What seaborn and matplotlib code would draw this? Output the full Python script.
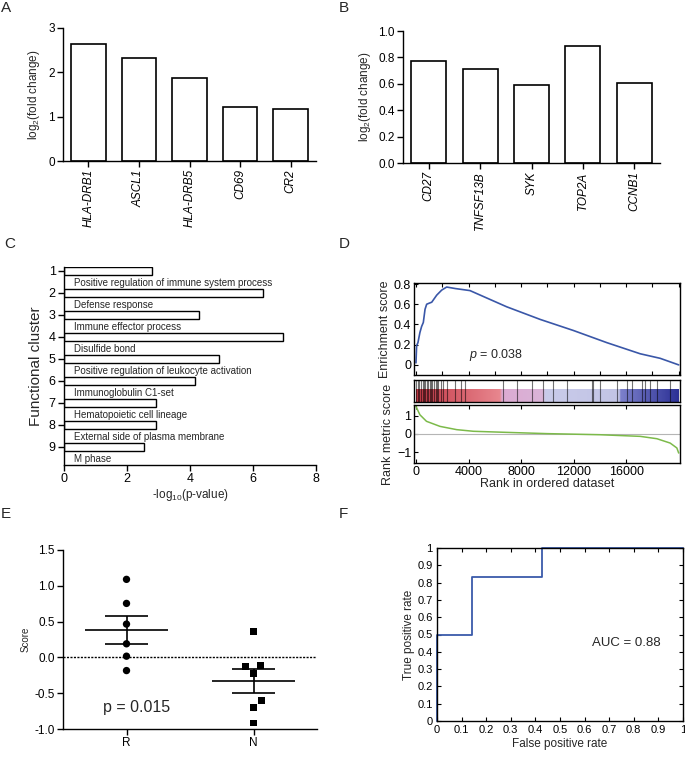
import numpy as np
import pandas as pd
import matplotlib
matplotlib.use('Agg')
import matplotlib.pyplot as plt
import seaborn as sns
from matplotlib.colors import LinearSegmentedColormap

# ---------------- data ----------------
# A
genes_a = ['HLA-DRB1', 'ASCL1', 'HLA-DRB5', 'CD69', 'CR2']
fc_a = [2.65, 2.32, 1.87, 1.22, 1.18]
# B
genes_b = ['CD27', 'TNFSF13B', 'SYK', 'TOP2A', 'CCNB1']
fc_b = [0.77, 0.71, 0.59, 0.885, 0.605]
# C
clusters = ['1', '2', '3', '4', '5', '6', '7', '8', '9']
cluster_terms = ['Positive regulation of immune system process', 'Defense response',
                 'Immune effector process', 'Disulfide bond',
                 'Positive regulation of leukocyte activation', 'Immunoglobulin C1-set',
                 'Hematopoietic cell lineage', 'External side of plasma membrane', 'M phase']
cluster_logp = [2.78, 6.33, 4.27, 6.96, 4.92, 4.15, 2.92, 2.91, 2.55]
# D
es_rank = [0, 50, 150, 300, 430, 560, 690, 815, 1000, 1200, 1580, 1960, 2210, 2340,
           3000, 4110, 6900, 9450, 11990, 14530, 17070, 18590, 20000]
es_score = [0.02, 0.19, 0.22, 0.32, 0.38, 0.42, 0.55, 0.60, 0.61, 0.62, 0.69, 0.74, 0.76,
            0.77, 0.755, 0.735, 0.575, 0.45, 0.34, 0.22, 0.11, 0.065, 0.0]
hit_ranks = [30, 150, 250, 400, 500, 600, 700, 850, 950, 1050, 1150, 1250, 1350, 1500,
             1600, 1700, 1900, 2050, 2390, 2970, 3400, 3730, 6650, 7670, 8810, 9700,
             10460, 11480, 13380, 13510, 14020, 15290, 16050, 16430, 17190, 17450,
             17830, 18340, 19350]
metric_rank = [0, 300, 800, 1830, 3100, 4370, 6900, 10000, 14000, 17070, 18340, 19350,
               19860, 20000]
metric_score = [1.52, 1.06, 0.70, 0.42, 0.24, 0.15, 0.09, 0.02, -0.04, -0.13, -0.26,
                -0.50, -0.77, -1.05]
band_rank = [0, 6400, 6500, 9700, 9800, 15500, 15600, 20000]
band_colors = ['#c63a48', '#e8878f', '#dcaad2', '#dab4d8', '#c9cbea', '#c2c4e5',
               '#7c80cb', '#2c3196']
# E
score_r = [1.09, 0.754, 0.465, 0.19, 0.017, -0.184]
score_n = [0.367, -0.118, -0.132, -0.23, -0.599, -0.706, -0.916]

# ---------------- style ----------------
sns.set_style('ticks')
plt.rcParams['font.family'] = ['Liberation Sans', 'DejaVu Sans']
plt.rcParams['mathtext.fontset'] = 'custom'
plt.rcParams['mathtext.rm'] = 'Liberation Sans'
plt.rcParams['mathtext.it'] = 'Liberation Sans:italic'
plt.rcParams['mathtext.default'] = 'regular'
plt.rcParams['axes.linewidth'] = 1.0
plt.rcParams['axes.edgecolor'] = 'black'
plt.rcParams['xtick.color'] = 'black'
plt.rcParams['ytick.color'] = 'black'

W, H = 685, 757
fig = plt.figure(figsize=(W / 100, H / 100), dpi=100)


def ax_px(left, top, right, bottom):
    return fig.add_axes([left / W, 1 - bottom / H, (right - left) / W, (bottom - top) / H])


def prism(ax, fs=8.5):
    sns.despine(ax=ax)
    ax.tick_params(direction='out', length=4, width=1, labelsize=fs, pad=2)


# ---------------- A ----------------
axA = ax_px(63, 28, 316, 161)
sns.barplot(x=genes_a, y=fc_a, ax=axA, color='white', edgecolor='black', linewidth=1.2,
            width=0.68, saturation=1)
axA.set_xlim(-0.5, 4.5)
axA.set_ylim(0, 3)
axA.set_yticks([0, 1, 2, 3])
axA.set_ylabel('log$_2$(fold change)', fontsize=8.5, labelpad=4)
prism(axA)
axA.tick_params(axis='x', rotation=90)
for t in axA.get_xticklabels():
    t.set_fontstyle('italic')

# ---------------- B ----------------
axB = ax_px(403, 31, 660, 163)
sns.barplot(x=genes_b, y=fc_b, ax=axB, color='white', edgecolor='black', linewidth=1.2,
            width=0.68, saturation=1)
axB.set_xlim(-0.5, 4.5)
axB.set_ylim(0, 1.0)
axB.set_yticks(np.arange(0, 1.01, 0.2))
axB.yaxis.set_major_formatter(matplotlib.ticker.FormatStrFormatter('%.1f'))
axB.set_ylabel('log$_2$(fold change)', fontsize=8.5, labelpad=4)
prism(axB)
axB.tick_params(axis='x', rotation=90)
for t in axB.get_xticklabels():
    t.set_fontstyle('italic')

# ---------------- C ----------------
axC = ax_px(64, 267, 316, 465)
sns.barplot(x=cluster_logp, y=clusters, orient='h', ax=axC, color='white',
            edgecolor='black', linewidth=1.0, width=0.36, saturation=1)
axC.set_ylim(8.82, -0.18)
axC.set_xlim(0, 8)
axC.set_xticks([0, 2, 4, 6, 8])
for i, term in enumerate(cluster_terms):
    axC.text(0.32, i + 0.55, term, fontsize=7, va='center', ha='left')
axC.set_ylabel('Functional cluster', fontsize=11, labelpad=4)
axC.set_xlabel('-log$_{10}$(p-value)', fontsize=8.5, labelpad=1)
prism(axC, fs=9)

# ---------------- D ----------------
XL = (-150, 20100)
axD1 = ax_px(414, 283, 680, 375)
sns.lineplot(x=es_rank, y=es_score, ax=axD1, color='#3a57a8', linewidth=1.2,
             sort=False, estimator=None)
axD1.set_xlim(*XL)
axD1.set_ylim(-0.1, 0.81)
axD1.set_yticks([0, 0.2, 0.4, 0.6, 0.8])
axD1.set_yticklabels(['0', '0.2', '0.4', '0.6', '0.8'])
axD1.set_xticks(np.arange(0, 20001, 2000))
axD1.tick_params(axis='x', labelbottom=False, top=True, bottom=True, direction='in',
                 length=3)
axD1.tick_params(axis='y', direction='in', length=3, labelsize=9, pad=2)
axD1.set_ylabel('Enrichment score', fontsize=9, labelpad=2)
axD1.text(4000, 0.1, '$\\mathit{p}$ = 0.038', fontsize=9, va='center')

axD2 = ax_px(414, 380, 680, 402)
pos = [r / band_rank[-1] for r in band_rank]
cmap = LinearSegmentedColormap.from_list('band', list(zip(pos, band_colors)))
axD2.imshow(np.linspace(0, 1, 600)[None, :], extent=[band_rank[0], band_rank[-1], 0, 0.55],
            aspect='auto', cmap=cmap, interpolation='bilinear')
axD2.vlines(hit_ranks, 0, 1, color='black', alpha=0.55, linewidth=0.8)
axD2.set_xlim(*XL)
axD2.set_ylim(0, 1)
axD2.set_xticks([])
axD2.set_yticks([])

axD3 = ax_px(414, 405, 680, 463)
axD3.axhline(0, color='#b5b5b5', linewidth=0.8)
sns.lineplot(x=metric_rank, y=metric_score, ax=axD3, color='#7cba4a', linewidth=1.1,
             sort=False, estimator=None)
axD3.set_xlim(*XL)
axD3.set_ylim(-1.6, 1.6)
axD3.set_yticks([-1, 0, 1])
axD3.set_xticks([0, 4000, 8000, 12000, 16000])
axD3.tick_params(direction='in', length=3, labelsize=9, pad=2, top=True)
axD3.set_ylabel('Rank metric score', fontsize=9, labelpad=2)
axD3.set_xlabel('Rank in ordered dataset', fontsize=9, labelpad=0)
for ax in (axD1, axD2, axD3):
    for s in ax.spines.values():
        s.set_visible(True)
        s.set_linewidth(1.0)

# ---------------- E ----------------
axE = ax_px(63, 550, 317, 729)
# invisible edge width widens the swarm spacing without enlarging the markers
sns.swarmplot(x=['R'] * len(score_r), y=score_r, order=['R', 'N'], marker='o',
              color='black', size=5.3, linewidth=2.4, edgecolor='none', ax=axE)
sns.swarmplot(x=['N'] * len(score_n), y=score_n, order=['R', 'N'], marker='s',
              color='black', size=5.0, linewidth=2.6, edgecolor='none', ax=axE)
axE.axhline(0, color='black', linestyle=(0, (1.5, 1)), linewidth=1.0)
for i, vals in enumerate([score_r, score_n]):
    v = np.asarray(vals)
    m = v.mean()
    se = v.std(ddof=1) / np.sqrt(len(v))
    axE.hlines(m, i - 0.33, i + 0.33, color='black', linewidth=1.2)
    axE.hlines([m - se, m + se], i - 0.17, i + 0.17, color='black', linewidth=1.2)
    axE.vlines(i, m - se, m + se, color='black', linewidth=1.2)
axE.set_xlim(-0.5, 1.5)
axE.set_ylim(-1.0, 1.5)
axE.set_yticks(np.arange(-1.0, 1.51, 0.5))
axE.yaxis.set_major_formatter(matplotlib.ticker.FormatStrFormatter('%.1f'))
axE.set_ylabel('Score', fontsize=7, labelpad=3)
axE.text(0.08, -0.7, 'p = 0.015', fontsize=11.5, ha='center', va='center')
prism(axE)

# ---------------- F ----------------
labels = np.r_[np.ones(len(score_r)), np.zeros(len(score_n))]
scores = np.r_[score_r, score_n]
order = np.argsort(-scores)
tp = np.cumsum(labels[order])
fp = np.cumsum(1 - labels[order])
tpr = np.r_[0, tp / tp[-1]]
fpr = np.r_[0, fp / fp[-1]]
auc = np.trapezoid(tpr, fpr)

axF = ax_px(437, 548, 683, 721)
sns.lineplot(x=fpr, y=tpr, ax=axF, color='#3a5aaa', linewidth=1.3, sort=False,
             estimator=None)
for l in axF.lines:
    l.set_clip_on(False)
axF.set_xlim(0, 1)
axF.set_ylim(0, 1)
ticks = np.round(np.arange(0, 1.01, 0.1), 1)
axF.set_xticks(ticks)
axF.set_yticks(ticks)
axF.set_xticklabels([f'{t:g}' for t in ticks])
axF.set_yticklabels([f'{t:g}' for t in ticks])
axF.tick_params(direction='in', length=3, labelsize=8, pad=3, top=True, right=True)
axF.set_xlabel('False positive rate', fontsize=8.5, labelpad=2)
axF.set_ylabel('True positive rate', fontsize=8.5, labelpad=2)
axF.text(0.77, 0.45, f'AUC = {auc:.2f}', fontsize=9.5, ha='center', va='center')
for s in axF.spines.values():
    s.set_visible(True)

# ---------------- panel letters ----------------
for lab, x, y in [('A', 1, 8), ('B', 339, 8), ('C', 4, 244), ('D', 339, 244),
                  ('E', 1, 514), ('F', 339, 514)]:
    fig.text(x / W, 1 - y / H, lab, fontsize=11, va='center', ha='left')

fig.savefig('out.png', dpi=100)
